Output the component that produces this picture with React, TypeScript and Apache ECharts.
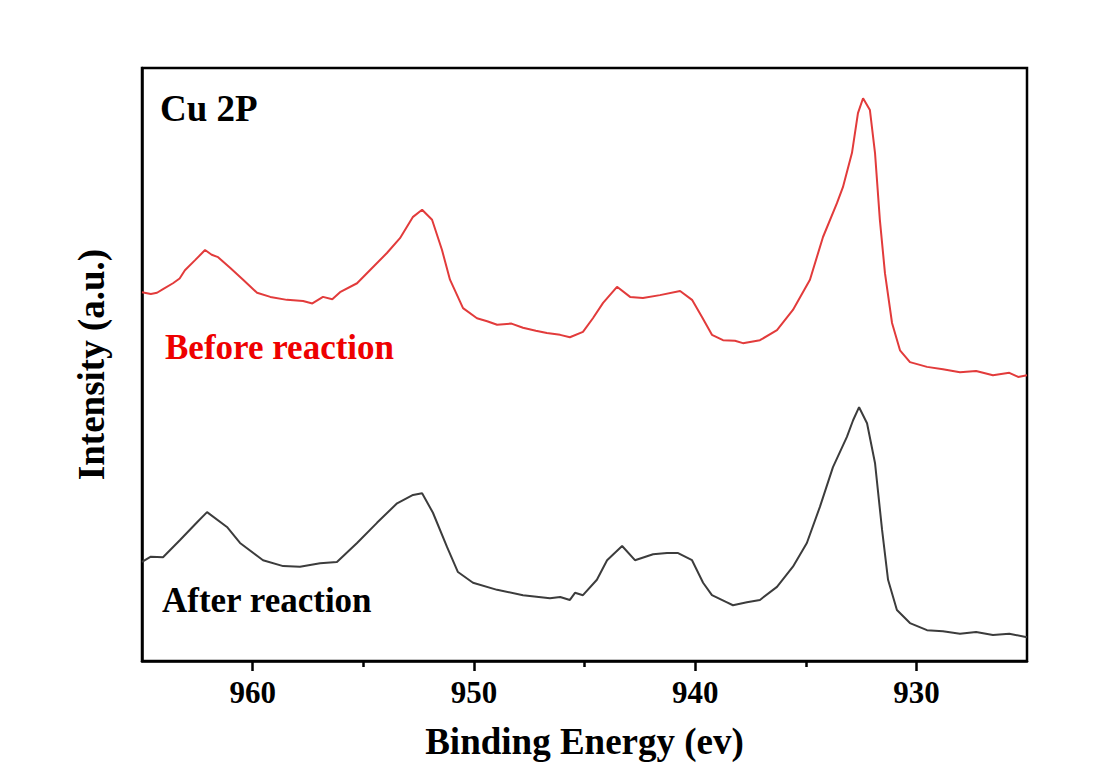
import React, { useEffect, useRef } from "react";
import * as echarts from "echarts";

// Before reaction (red) — binding energy (eV) and intensity (a.u.)
const beforeEnergy = [
  965.0, 964.6, 964.32, 964.05, 963.6, 963.3, 963.06, 962.6, 962.15, 961.85, 961.56, 961.02, 960.43,
  959.8, 959.2, 958.45, 957.72, 957.3, 956.82, 956.4, 956.05, 955.28, 954.7, 953.93, 953.34,
  952.75, 952.34, 951.89, 951.44, 951.08, 950.49, 949.86, 949.4, 948.95, 948.3, 947.78, 947.2, 946.7,
  946.1, 945.66, 945.07, 944.62, 944.16, 943.53, 942.94, 942.36, 941.59, 940.68,
  940.14, 939.69, 939.24, 938.74, 938.2, 937.84, 937.07, 936.3, 935.58, 934.81, 934.22,
  933.59, 933.32, 932.91, 932.64, 932.41, 932.1, 931.87, 931.65, 931.42, 931.1,
  930.74, 930.29, 929.52, 928.8, 928.03, 927.3, 926.54, 925.8, 925.4, 925.0,
];
const beforeIntensity = [
  62.2, 61.9, 62.1, 62.7, 63.7, 64.5, 65.9, 67.6, 69.3, 68.5, 68.1, 66.3, 64.3,
  62.1, 61.4, 60.9, 60.7, 60.3, 61.4, 61.0, 62.2, 63.7, 65.9, 68.8, 71.3,
  74.9, 76.1, 74.4, 69.3, 64.3, 59.5, 57.8, 57.3, 56.7, 56.9, 56.2, 55.7, 55.3,
  55.0, 54.6, 55.5, 57.8, 60.4, 63.1, 61.4, 61.2, 61.7, 62.4,
  60.9, 58.0, 55.0, 54.1, 54.0, 53.6, 54.1, 55.8, 59.2, 64.3, 71.5,
  77.2, 79.9, 85.7, 92.4, 94.9, 92.9, 85.7, 74.4, 65.4, 57.0,
  52.4, 50.4, 49.6, 49.2, 48.7, 48.9, 48.2, 48.6, 47.9, 48.2,
];

// After reaction (black)
const afterEnergy = [
  965.0, 964.6, 964.05, 963.28, 962.51, 962.06, 961.16, 960.57, 959.53, 958.62, 957.86,
  956.95, 956.19, 955.28, 954.38, 953.47, 952.75, 952.34, 951.85, 951.21, 950.72,
  950.04, 948.95, 947.78, 946.56, 946.1, 945.66, 945.43, 945.07, 944.44, 943.98,
  943.3, 942.72, 941.9, 941.27, 940.77, 940.14, 939.64, 939.24, 938.56, 938.29,
  937.66, 937.07, 936.3, 935.58, 934.95, 934.36, 933.77, 933.14, 932.86, 932.59,
  932.23, 931.87, 931.55, 931.28, 930.88, 930.29, 929.52, 928.8, 928.03, 927.3, 926.54, 925.8, 925.0,
];
const afterIntensity = [
  16.7, 17.6, 17.5, 20.4, 23.4, 25.1, 22.6, 19.9, 17.0, 16.0, 15.9,
  16.5, 16.7, 19.9, 23.3, 26.6, 28.0, 28.3, 25.0, 19.2, 15.0,
  13.2, 12.0, 11.1, 10.6, 10.8, 10.3, 11.5, 11.1, 13.7, 17.0,
  19.4, 17.0, 18.0, 18.2, 18.2, 17.0, 13.2, 11.1, 9.9, 9.4,
  9.9, 10.3, 12.5, 15.9, 19.9, 26.0, 32.7, 37.8, 40.6, 42.8,
  40.1, 33.4, 22.1, 13.7, 8.6, 6.4, 5.2, 5.0, 4.6, 4.9, 4.4, 4.6, 4.0,
];

const majorTicks = [930, 940, 950, 960];
const minorTicks = [935, 945, 955];

const FONT = "'Liberation Serif', 'Times New Roman', serif";

export default function App() {
  const ref = useRef<HTMLDivElement>(null);
  useEffect(() => {
    if (!ref.current) return;
    const chart = echarts.init(ref.current, undefined, { renderer: "svg" });
    const before = beforeEnergy.map((e, i) => [e, beforeIntensity[i]]);
    const after = afterEnergy.map((e, i) => [e, afterIntensity[i]]);
    chart.setOption({
      animation: false,
      backgroundColor: "#ffffff",
      grid: {
        left: 142,
        right: 75,
        top: 68,
        bottom: 115,
        show: true,
        borderColor: "#000",
        borderWidth: 2.5,
        backgroundColor: "transparent",
      },
      xAxis: [
        {
          type: "value",
          min: 925,
          max: 965,
          inverse: true,
          name: "Binding Energy (ev)",
          nameLocation: "middle",
          nameGap: 62,
          nameTextStyle: { fontFamily: FONT, fontWeight: "bold", fontSize: 37, color: "#000" },
          axisLine: { show: true, onZero: false, lineStyle: { color: "#000", width: 2.5 } },
          axisTick: { show: true, inside: false, length: 10, customValues: majorTicks, lineStyle: { color: "#000", width: 2.5 } },
          axisLabel: { show: true, customValues: majorTicks, margin: 16, fontFamily: FONT, fontWeight: "bold", fontSize: 31, color: "#000" },
          splitLine: { show: false },
        },
        {
          type: "value",
          min: 925,
          max: 965,
          inverse: true,
          position: "bottom",
          axisLine: { show: false },
          axisTick: { show: true, inside: false, length: 6, customValues: minorTicks, lineStyle: { color: "#000", width: 2.5 } },
          axisLabel: { show: false },
          splitLine: { show: false },
        },
      ],
      yAxis: {
        type: "value",
        min: 0,
        max: 100,
        name: "Intensity (a.u.)",
        nameLocation: "middle",
        nameGap: 32,
        nameTextStyle: { fontFamily: FONT, fontWeight: "bold", fontSize: 37, color: "#000" },
        axisLine: { show: true, lineStyle: { color: "#000", width: 2.5 } },
        axisTick: { show: false },
        axisLabel: { show: false },
        splitLine: { show: false },
      },
      series: [
        {
          name: "Before reaction",
          type: "line",
          data: before,
          showSymbol: false,
          lineStyle: { color: "#e23b3b", width: 2 },
          xAxisIndex: 0,
        },
        {
          name: "After reaction",
          type: "line",
          data: after,
          showSymbol: false,
          lineStyle: { color: "#3c3c3c", width: 2 },
          xAxisIndex: 0,
        },
      ],
      graphic: [
        {
          type: "text",
          left: 160,
          top: 90,
          style: { text: "Cu 2P", font: `bold 37px ${FONT}`, fill: "#000" },
        },
        {
          type: "text",
          left: 165,
          top: 330,
          style: { text: "Before reaction", font: `bold 35px ${FONT}`, fill: "#ee0000" },
        },
        {
          type: "text",
          left: 162,
          top: 583,
          style: { text: "After reaction", font: `bold 35px ${FONT}`, fill: "#000" },
        },
      ],
    });
    return () => chart.dispose();
  }, []);
  return (
    <div
      ref={ref}
      style={{ position: "fixed", left: 0, top: 0, width: 1102, height: 776, background: "#fff" }}
    />
  );
}
